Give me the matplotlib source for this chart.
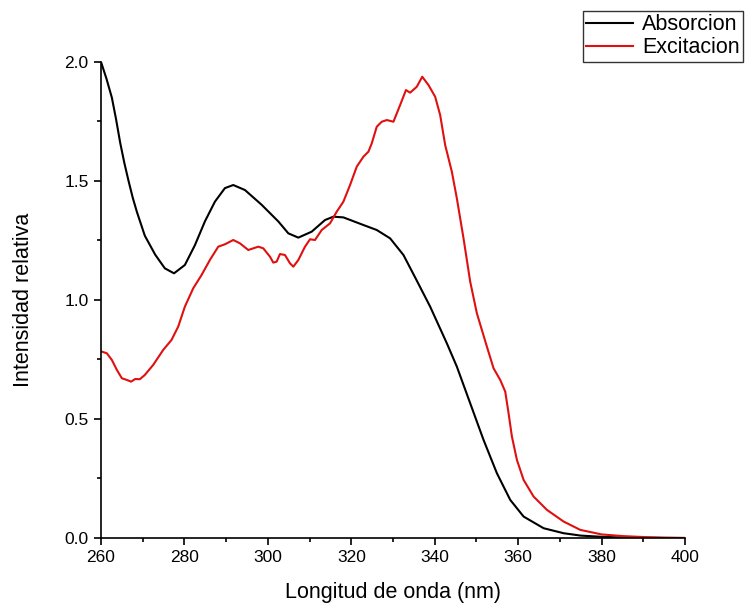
import matplotlib
matplotlib.use("Agg")
import matplotlib.pyplot as plt
from matplotlib.ticker import MultipleLocator, FormatStrFormatter

plt.rcParams['font.family'] = ['Liberation Sans', 'DejaVu Sans']

# Absorcion (black)
abs_x = [260, 261.3, 262.6, 263.6, 264.6, 265.6, 266.6, 267.6, 268.6, 270.5, 273,
         275.3, 277.5, 280.1, 282.5, 284.9, 287.3, 289.7, 291.7, 294.5, 298.5,
         302.5, 304.9, 307.3, 310.5, 313.7, 315.7, 318.1, 322.9, 326.1, 329.3,
         332.5, 335.5, 338.9, 342.9, 345.3, 348.5, 351.7, 354.9, 358.1, 361.3,
         366.1, 370.9, 375, 380, 385, 390, 400]
abs_y = [2.0, 1.93, 1.85, 1.76, 1.66, 1.575, 1.50, 1.43, 1.37, 1.27, 1.19,
         1.133, 1.112, 1.147, 1.23, 1.33, 1.413, 1.47, 1.483, 1.462, 1.40,
         1.33, 1.28, 1.262, 1.287, 1.336, 1.35, 1.347, 1.315, 1.294, 1.259,
         1.189, 1.088, 0.972, 0.818, 0.72, 0.566, 0.412, 0.272, 0.16, 0.09,
         0.041, 0.02, 0.01, 0.005, 0.002, 0.001, 0.0]

# Excitacion (red)
exc_x = [260.2, 261.4, 262.6, 263.8, 265, 266.2, 267.2, 268.2, 269.3, 270.5,
         272.5, 274.9, 276.9, 278.5, 280.1, 282.1, 284.1, 286.1, 288.1, 289.7,
         291.7, 293.3, 295.3, 297.7, 298.9, 300.5, 301.3, 302.1, 302.9, 304.1,
         305.3, 306.1, 307.3, 308.9, 310.1, 311.3, 312.9, 314.9, 316.5, 318.1,
         319.7, 321.3, 322.9, 324.1, 324.9, 326.1, 327.3, 328.5, 330.1, 331.7,
         333.1, 334.1, 335.7, 337.0, 338.5, 340.1, 341.3, 342.5, 344.1, 345.3,
         346.9, 348.5, 350.1, 352.5, 354.1, 355.7, 356.9, 357.7, 358.5, 359.7,
         361.3, 363.7, 366.9, 370.9, 374.9, 380, 385, 390, 395, 400]
exc_y = [0.783, 0.776, 0.748, 0.706, 0.671, 0.664, 0.657, 0.668, 0.667, 0.685,
         0.727, 0.79, 0.832, 0.888, 0.972, 1.049, 1.105, 1.168, 1.224, 1.234,
         1.252, 1.238, 1.21, 1.224, 1.217, 1.182, 1.157, 1.161, 1.193, 1.189,
         1.154, 1.14, 1.168, 1.224, 1.255, 1.252, 1.294, 1.322, 1.371, 1.413,
         1.483, 1.56, 1.602, 1.623, 1.658, 1.728, 1.749, 1.756, 1.749, 1.819,
         1.882, 1.871, 1.896, 1.938, 1.903, 1.854, 1.777, 1.651, 1.539, 1.427,
         1.259, 1.077, 0.944, 0.804, 0.713, 0.664, 0.615, 0.524, 0.426, 0.328,
         0.244, 0.174, 0.118, 0.069, 0.034, 0.015, 0.008, 0.004, 0.001, 0.0]

fig = plt.figure(figsize=(7.45, 6.07), dpi=100)
ax = fig.add_axes([0.1356, 0.1137, 0.7839, 0.7842])

ax.plot(abs_x, abs_y, color='black', lw=1.5, label='Absorcion')
ax.plot(exc_x, exc_y, color='#e01010', lw=1.5, label='Excitacion')

ax.set_xlim(260, 400)
ax.set_ylim(0, 2.0)
ax.xaxis.set_major_locator(MultipleLocator(20))
ax.xaxis.set_minor_locator(MultipleLocator(10))
ax.yaxis.set_major_locator(MultipleLocator(0.5))
ax.yaxis.set_minor_locator(MultipleLocator(0.25))
ax.yaxis.set_major_formatter(FormatStrFormatter('%.1f'))

for s in ['top', 'right']:
    ax.spines[s].set_visible(False)
for s in ['left', 'bottom']:
    ax.spines[s].set_linewidth(1.2)

ax.tick_params(which='major', direction='out', length=5, width=1.2, labelsize=12.5, pad=4)
ax.tick_params(which='minor', direction='out', length=3, width=1.2)

ax.set_xlabel('Longitud de onda (nm)', fontsize=15.5, labelpad=12)
ax.set_ylabel('Intensidad relativa', fontsize=15.5, labelpad=22)

leg = fig.legend(loc='upper right', bbox_to_anchor=(0.997, 0.982), fontsize=15.5,
                 frameon=True, fancybox=False, edgecolor='black',
                 handlelength=2.2, borderpad=0.15, labelspacing=0.1,
                 handletextpad=0.4, borderaxespad=0)
leg.get_frame().set_linewidth(1.0)

fig.savefig('out.png', dpi=100)
